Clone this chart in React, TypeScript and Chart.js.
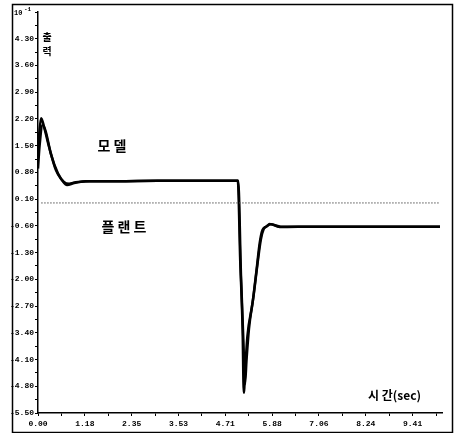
import React, { useEffect, useRef } from 'react';
import { Chart, registerables } from 'chart.js';

Chart.register(...registerables);

// time axis (sec)
const modelTime = [0, 0.03, 0.08, 0.15, 0.28, 0.45, 0.6, 0.73, 0.9, 1.2, 2.0, 3.0, 4.0, 5.02, 5.08, 5.14, 5.17, 5.21, 5.26, 5.39, 5.49, 5.57, 5.64, 5.74, 5.82, 6.07, 7.0, 8.0, 9.0, 10.1];
// output (x10^-1), model
const modelValues = [1.2, 1.8, 2.22, 2.0, 1.46, 0.86, 0.6, 0.47, 0.52, 0.57, 0.57, 0.58, 0.58, 0.58, -1.5, -3.3, -4.97, -4.3, -3.5, -2.62, -1.76, -1.05, -0.71, -0.62, -0.55, -0.63, -0.62, -0.62, -0.62, -0.62];

const plantTime = [0, 0.04, 0.12, 0.2, 0.32, 0.5, 0.65, 0.78, 0.95, 1.3, 2.0, 3.0, 4.0, 5.03, 5.1, 5.16, 5.2, 5.24, 5.3, 5.42, 5.52, 5.6, 5.67, 5.76, 5.85, 6.1, 7.0, 8.0, 9.0, 10.1];
const plantValues = [0.9, 1.5, 2.05, 1.85, 1.3, 0.78, 0.55, 0.5, 0.54, 0.57, 0.57, 0.58, 0.58, 0.58, -1.9, -3.6, -4.75, -4.1, -3.3, -2.4, -1.55, -0.95, -0.68, -0.6, -0.56, -0.62, -0.62, -0.62, -0.62, -0.62];

// dotted reference line
const refTime = [0.08, 10.08];
const refValues = [0, 0];

const xTickLabels = ['0.00', '1.18', '2.35', '3.53', '4.71', '5.88', '7.06', '8.24', '9.41'];
const yTickLabels = ['-5.50', '-4.80', '-4.10', '-3.40', '-2.70', '-2.00', '-1.30', '-0.60', '0.10', '0.80', '1.50', '2.20', '2.90', '3.60', '4.30'];

const X_MIN = 0;
const X_MAX = 10.15;
const X_STEP = 10 / 17;
const Y_MIN = -5.5;
const Y_MAX = 5.0;
const Y_STEP = 0.35;

const toXY = (xs: number[], ys: number[]) => xs.map((x, i) => ({ x, y: ys[i] }));

const decorPlugin = {
  id: 'decor',
  afterDraw(chart: any) {
    const ctx = chart.ctx as CanvasRenderingContext2D;
    ctx.save();
    ctx.strokeStyle = '#000';
    ctx.lineWidth = 1.5;
    ctx.strokeRect(12.5, 4.5, 440, 428);

    ctx.fillStyle = '#000';
    ctx.textBaseline = 'middle';
    ctx.textAlign = 'left';
    ctx.font = 'bold 7px "Liberation Mono"';
    ctx.fillText('10', 14, 13);
    ctx.font = 'bold 6px "Liberation Mono"';
    ctx.fillText('-1', 24, 9);

    ctx.textAlign = 'center';
    ctx.font = 'bold 10px "Noto Sans CJK KR"';
    ctx.fillText('출', 47, 37);
    ctx.fillText('력', 47, 51);

    ctx.font = 'bold 14px "Noto Sans CJK KR"';
    ctx.fillText('모 델', 112, 146);
    ctx.fillText('플 랜 트', 124, 227);

    ctx.textAlign = 'left';
    ctx.font = 'bold 12px "Noto Sans CJK KR"';
    ctx.fillText('시 간(sec)', 368, 395);
    ctx.restore();
  },
};

export default function App() {
  const ref = useRef<HTMLCanvasElement | null>(null);
  useEffect(() => {
    if (!ref.current) return;
    const chart = new Chart(ref.current, {
      type: 'line',
      data: {
        datasets: [
          {
            label: '기준',
            data: toXY(refTime, refValues),
            borderColor: '#555',
            borderWidth: 1,
            borderDash: [1.5, 1.5],
            pointRadius: 0,
          },
          {
            label: '모델',
            data: toXY(modelTime, modelValues),
            borderColor: '#000',
            borderWidth: 2.5,
            pointRadius: 0,
            cubicInterpolationMode: 'monotone',
          },
          {
            label: '플랜트',
            data: toXY(plantTime, plantValues),
            borderColor: '#000',
            borderWidth: 2.5,
            pointRadius: 0,
            cubicInterpolationMode: 'monotone',
          },
        ],
      },
      options: {
        animation: false,
        responsive: false,
        maintainAspectRatio: false,
        layout: { padding: { left: 0, right: 13, top: 12, bottom: 0 } },
        plugins: { legend: { display: false }, tooltip: { enabled: false } },
        scales: {
          x: {
            type: 'linear',
            min: X_MIN,
            max: X_MAX,
            afterFit: (s: any) => { s.height = 20; },
            afterBuildTicks: (s: any) => {
              const t = [];
              for (let i = 0; i * X_STEP <= X_MAX + 1e-9; i++) t.push({ value: i * X_STEP });
              s.ticks = t;
            },
            ticks: {
              autoSkip: false,
              maxRotation: 0,
              padding: 3,
              color: '#000',
              font: { family: 'Liberation Mono', size: 8, weight: 'bold' },
              callback: (_v: any, i: number) => (i % 2 === 0 && xTickLabels[i / 2] !== undefined ? xTickLabels[i / 2] : ''),
            },
            grid: { drawOnChartArea: false, tickLength: 3, color: '#000', lineWidth: 1 },
            border: { color: '#000', width: 1.5 },
          },
          y: {
            type: 'linear',
            min: Y_MIN,
            max: Y_MAX,
            afterFit: (s: any) => { s.width = 38; },
            afterBuildTicks: (s: any) => {
              const t = [];
              for (let i = 0; i <= 30; i++) t.push({ value: Y_MIN + i * Y_STEP });
              s.ticks = t;
            },
            ticks: {
              autoSkip: false,
              padding: 1,
              color: '#000',
              font: { family: 'Liberation Mono', size: 8, weight: 'bold' },
              callback: (_v: any, i: number) => (i % 2 === 0 && yTickLabels[i / 2] !== undefined ? yTickLabels[i / 2] : ''),
            },
            grid: { drawOnChartArea: false, tickLength: 3, color: '#000', lineWidth: 1 },
            border: { color: '#000', width: 1.5 },
          },
        },
      },
      plugins: [decorPlugin],
    } as any);
    return () => chart.destroy();
  }, []);
  return (
    <div style={{ position: 'fixed', left: 0, top: 0, width: 455, height: 433, background: '#fff' }}>
      <canvas ref={ref} width={455} height={433} style={{ width: 455, height: 433, display: 'block' }} />
    </div>
  );
}
